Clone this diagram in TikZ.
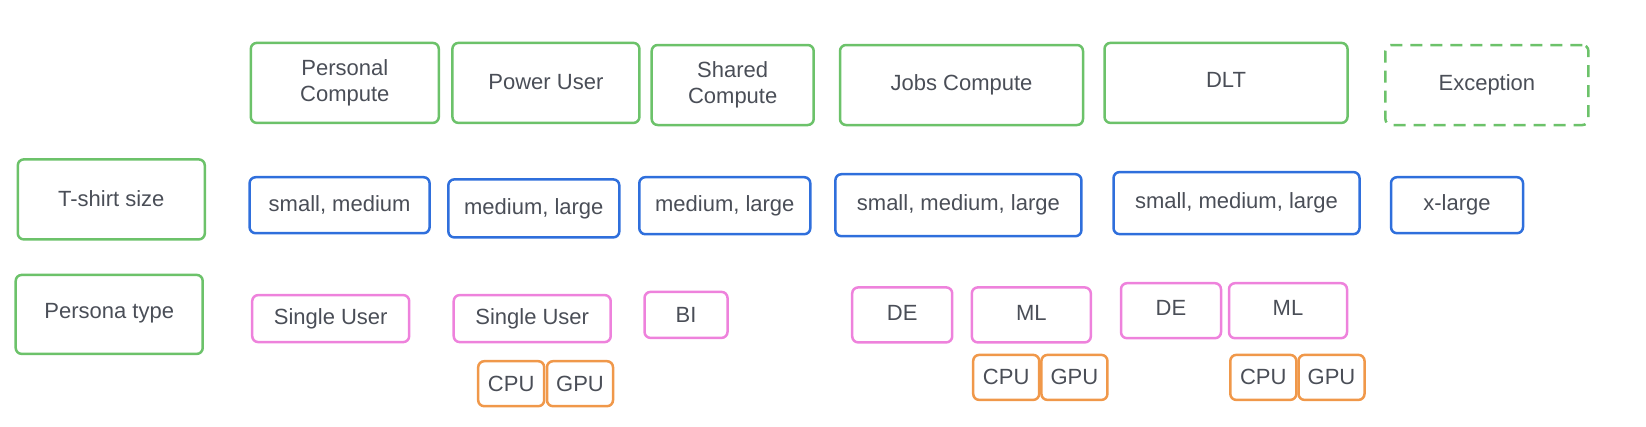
\documentclass[tikz,border=0pt]{standalone}
\usepackage{fontspec}
\setmainfont{Liberation Sans}
\definecolor{gr}{HTML}{6CC26A}
\definecolor{bl}{HTML}{2F6FDC}
\definecolor{pk}{HTML}{EE82DC}
\definecolor{og}{HTML}{F0984A}
\definecolor{tx}{HTML}{4A4E57}
\begin{document}
\begin{tikzpicture}[x=1pt,y=-1pt,
  box/.style={draw, line width=2.5pt, rounded corners=6pt, inner sep=0pt, align=center,
    text=tx, font=\fontsize{22}{26}\selectfont},
  gbox/.style={box, draw=gr},
  bbox/.style={box, draw=bl},
  pbox/.style={box, draw=pk},
  obox/.style={box, draw=og}]
\useasboundingbox (0,0) rectangle (1646,426);
% row 1
\node[gbox, minimum width=188pt, minimum height=80pt] (pc) at (344.8,82.9) {Personal\\Compute};
\node[gbox, minimum width=187pt, minimum height=80pt] (pu) at (545.9,82.9) {\raisebox{2pt}{Power User}};
\node[gbox, minimum width=162pt, minimum height=80pt] (sc) at (732.7,85) {Shared\\Compute};
\node[gbox, minimum width=243pt, minimum height=80pt] (jc) at (961.5,85) {Jobs Compute};
\node[gbox, minimum width=243pt, minimum height=80pt] (dlt) at (1226,82.9) {\raisebox{6pt}{DLT}};
\node[gbox, dashed, dash pattern=on 12pt off 8pt, minimum width=203pt, minimum height=80pt] (exc) at (1486.9,85) {Exception};
% row 2
\node[gbox, minimum width=187pt, minimum height=80pt] (ts) at (111.3,199.4) {\raisebox{2pt}{T-shirt size}};
\node[bbox, minimum width=180pt, minimum height=56pt] (sm) at (339.6,205.2) {\raisebox{4pt}{small, medium}};
\node[bbox, minimum width=171pt, minimum height=58pt] (ml1) at (533.8,208.4) {medium, large};
\node[bbox, minimum width=171pt, minimum height=57pt] (ml2) at (724.8,205.7) {\raisebox{4pt}{medium, large}};
\node[bbox, minimum width=246pt, minimum height=62pt] (sml1) at (958.4,205.2) {small, medium, large};
\node[bbox, minimum width=246pt, minimum height=62pt] (sml2) at (1236.5,203.1) {\raisebox{4pt}{small, medium, large}};
\node[bbox, minimum width=132pt, minimum height=56pt] (xl) at (1457,205.2) {x-large};
% row 3
\node[gbox, minimum width=187pt, minimum height=79pt] (pt) at (109.2,314.4) {\raisebox{6pt}{Persona type}};
\node[pbox, minimum width=157pt, minimum height=47pt] (su1) at (330.7,318.6) {Single User};
\node[pbox, minimum width=157pt, minimum height=47pt] (su2) at (532.2,318.6) {Single User};
\node[pbox, minimum width=83pt, minimum height=46pt] (bi) at (686,314.9) {BI};
\node[pbox, minimum width=100pt, minimum height=55pt] (de1) at (902.2,314.9) {\raisebox{4pt}{DE}};
\node[pbox, minimum width=119pt, minimum height=55pt] (ml1p) at (1031.3,314.9) {\raisebox{4pt}{ML}};
\node[pbox, minimum width=100pt, minimum height=55pt] (de2) at (1171,310.7) {\raisebox{6pt}{DE}};
\node[pbox, minimum width=118pt, minimum height=55pt] (ml2p) at (1288,310.7) {\raisebox{6pt}{ML}};
% row 4
\node[obox, minimum width=66pt, minimum height=45pt] (cpu1) at (511.2,383.7) {CPU};
\node[obox, minimum width=66pt, minimum height=45pt] (gpu1) at (580,383.7) {GPU};
\node[obox, minimum width=66pt, minimum height=45pt] (cpu2) at (1006.2,377.4) {CPU};
\node[obox, minimum width=66pt, minimum height=45pt] (gpu2) at (1074.4,377.4) {GPU};
\node[obox, minimum width=66pt, minimum height=45pt] (cpu3) at (1263.3,377.4) {CPU};
\node[obox, minimum width=66pt, minimum height=45pt] (gpu3) at (1331.5,377.4) {GPU};
\end{tikzpicture}
\end{document}
